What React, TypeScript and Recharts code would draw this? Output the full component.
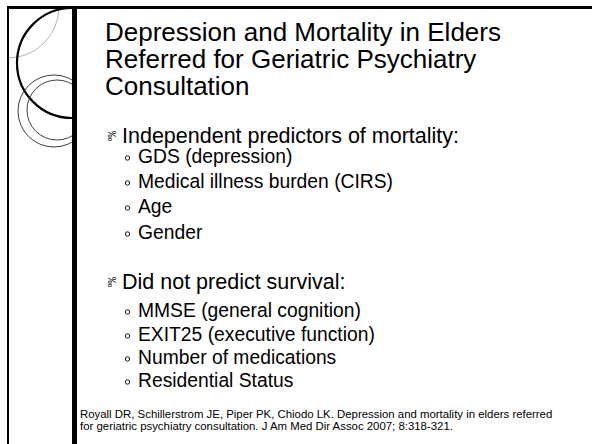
import React from "react";
import { Surface, Layer } from "recharts";

const titleLines = [
  "Depression and Mortality in Elders",
  "Referred for Geriatric Psychiatry",
  "Consultation",
];
const sectionHeads = ["Independent predictors of mortality:", "Did not predict survival:"];
const predictors = ["GDS (depression)", "Medical illness burden (CIRS)", "Age", "Gender"];
const nonPredictors = [
  "MMSE (general cognition)",
  "EXIT25 (executive function)",
  "Number of medications",
  "Residential Status",
];
const citationLines = [
  "Royall DR, Schillerstrom JE, Piper PK, Chiodo LK. Depression and mortality in elders referred",
  "for geriatric psychiatry consultation. J Am Med Dir Assoc 2007; 8:318-321.",
];

const W = 592;
const H = 444;
const FONT = "'Liberation Sans', Arial, sans-serif";

const Section = ({ head, items, headY, itemYs }: { head: string; items: string[]; headY: number; itemYs: number[] }) => (
  <Layer>
    <text
      x={111.5}
      y={headY - 7}
      fontSize={10.5}
      fontFamily={FONT}
      textAnchor="middle"
      dominantBaseline="central"
      transform={`rotate(90, 111.5, ${headY - 7})`}
    >
      ‰
    </text>
    <text x={122} y={headY} fontSize={21.5} fontFamily={FONT} fill="#000">
      {head}
    </text>
    {items.map((s, i) => (
      <g key={s}>
        <circle cx={127.5} cy={itemYs[i] - 5} r={2.2} fill="none" stroke="#000" strokeWidth={0.9} />
        <text x={138} y={itemYs[i]} fontSize={19.3} fontFamily={FONT} fill="#000">
          {s}
        </text>
      </g>
    ))}
  </Layer>
);

export default function App() {
  return (
    <div style={{ position: "absolute", left: 0, top: 0, width: W, height: H, background: "#fff" }}>
      <Surface width={W} height={H} viewBox={{ x: 0, y: 0, width: W, height: H }}>
        <defs>
          <clipPath id="deco">
            <rect x={9} y={9} width={63} height={H - 9} />
          </clipPath>
        </defs>
        <rect x={0} y={0} width={W} height={H} fill="#fff" />
        {/* decorative arcs, clipped to the left band */}
        <g clipPath="url(#deco)">
          <circle cx={8} cy={7} r={51} fill="none" stroke="#b4b4b4" strokeWidth={1} />
          <circle cx={72} cy={63} r={55} fill="none" stroke="#000" strokeWidth={2.2} />
          <circle cx={54} cy={111} r={36} fill="none" stroke="#404040" strokeWidth={1} />
          <circle cx={57} cy={110} r={30} fill="none" stroke="#404040" strokeWidth={1} />
        </g>
        <rect x={7} y={6} width={W - 7} height={3} fill="#000" />
        <rect x={7} y={6} width={2} height={H - 6} fill="#000" />
        <rect x={72} y={6} width={5} height={H - 6} fill="#000" />

        {titleLines.map((t, i) => (
          <text key={t} x={105} y={41 + i * 27} fontSize={26} fontFamily={FONT} fill="#000">
            {t}
          </text>
        ))}

        <Section head={sectionHeads[0]} items={predictors} headY={143} itemYs={[163, 188, 213, 239]} />
        <Section head={sectionHeads[1]} items={nonPredictors} headY={289} itemYs={[317, 341, 364, 387]} />

        {citationLines.map((t, i) => (
          <text key={t} x={80} y={418 + i * 12} fontSize={11.4} fontFamily={FONT} fill="#000">
            {t}
          </text>
        ))}
      </Surface>
    </div>
  );
}
